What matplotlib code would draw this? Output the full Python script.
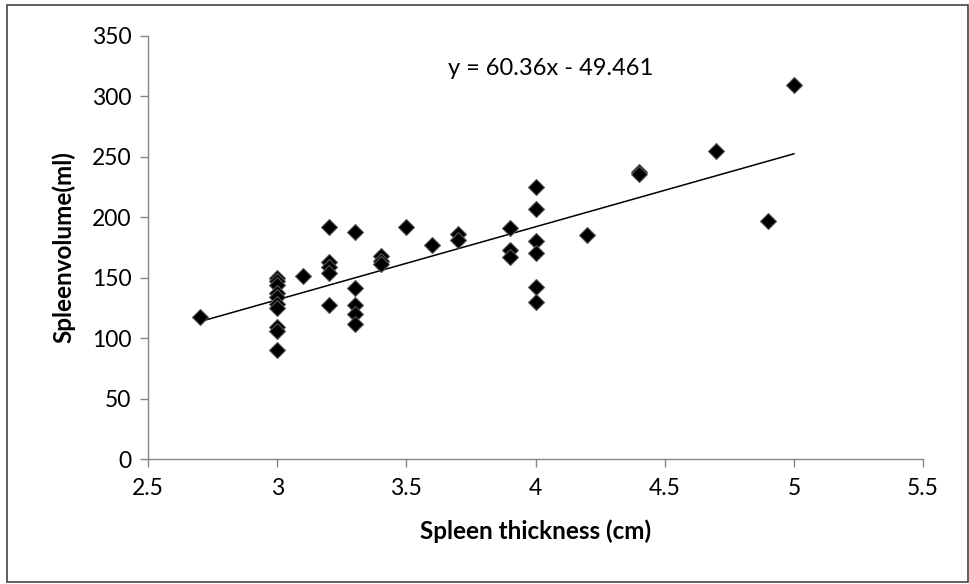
import numpy as np
import matplotlib.pyplot as plt
from matplotlib.patches import Rectangle

plt.rcParams['font.family'] = ['Lato', 'DejaVu Sans']

# spleen thickness (cm) and spleen volume (ml)
thickness = [2.7,
             3.0, 3.0, 3.0, 3.0, 3.0, 3.0, 3.0, 3.0, 3.0, 3.0,
             3.1,
             3.2, 3.2, 3.2, 3.2, 3.2,
             3.3, 3.3, 3.3, 3.3, 3.3,
             3.4, 3.4, 3.4,
             3.5, 3.6, 3.7, 3.7,
             3.9, 3.9, 3.9,
             4.0, 4.0, 4.0, 4.0, 4.0, 4.0,
             4.2, 4.4, 4.4, 4.7, 4.9, 5.0]
volume = [117,
          150, 147, 144, 137, 134, 128, 125, 109, 106, 90,
          151,
          192, 163, 159, 154, 127,
          188, 141, 127, 120, 112,
          168, 164, 161,
          192, 177, 186, 181,
          191, 173, 167,
          225, 207, 180, 170, 142, 130,
          185, 237, 236, 255, 197, 309]

slope = 60.36
intercept = -49.461
eq_text = "y = 60.36x - 49.461"

fig = plt.figure(figsize=(9.69, 5.84), dpi=100)
ax = fig.add_axes([0.1527, 0.214, 0.80, 0.725])

gray = "#868686"
ax.plot(thickness, volume, linestyle="none", marker="D", markersize=8,
        markerfacecolor="black", markeredgecolor="#555555", markeredgewidth=0.8, zorder=3)

xl = np.array([min(thickness), max(thickness)])
ax.plot(xl, slope * xl + intercept, color="black", linewidth=1.1, zorder=2)

ax.set_xlim(2.5, 5.5)
ax.set_ylim(0, 350)
ax.set_xticks(np.arange(2.5, 5.51, 0.5))
ax.set_xticklabels(["2.5", "3", "3.5", "4", "4.5", "5", "5.5"])
ax.set_yticks(range(0, 351, 50))

for s in ["top", "right"]:
    ax.spines[s].set_visible(False)
for s in ["left", "bottom"]:
    ax.spines[s].set_color(gray)
    ax.spines[s].set_linewidth(1.0)
ax.tick_params(axis="both", colors=gray, labelcolor="black", labelsize=16.5,
               length=6, width=1.0, direction="out")
ax.tick_params(axis="x", pad=8)
ax.tick_params(axis="y", pad=6)

ax.set_xlabel("Spleen thickness (cm)", fontsize=17.5, fontweight="bold", labelpad=14)
ax.set_ylabel("Spleenvolume(ml)", fontsize=17.5, fontweight="bold", labelpad=12)

ax.text(4.06, 323, eq_text, fontsize=17, ha="center", va="center")

fig.patches.append(Rectangle((7 / 969, 2 / 584), 961 / 969, 577 / 584,
                             transform=fig.transFigure, fill=False,
                             edgecolor="#444444", linewidth=1.2))

plt.savefig("out.png", dpi=100)
plt.close()
